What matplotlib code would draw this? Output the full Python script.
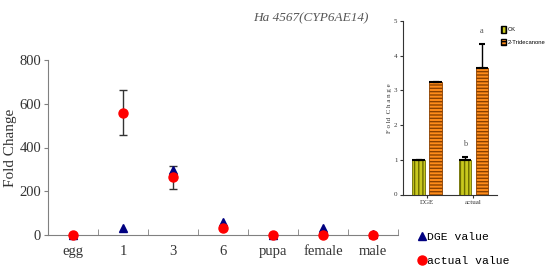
import matplotlib
matplotlib.use("Agg")
import matplotlib.pyplot as plt
import numpy as np
from matplotlib.lines import Line2D
from matplotlib.patches import Patch

# ---- data ----
stages = ["egg", "1", "3", "6", "pupa", "female", "male"]
dge_values = [0, 30, 297, 60, 0, 30, 5]
actual_values = [0, 560, 263, 33, 0, 0, 0]
actual_err = [0, 105, 52, 0, 0, 0, 0]

inset_groups = ["DGE", "actual"]
ck_values = [1.0, 1.0]
ck_err = [0.0, 0.09]
tri_values = [3.23, 3.65]
tri_err = [0.0, 0.69]
ck_letters = ["", "b"]
tri_letters = ["", "a"]

plt.rcParams['font.family'] = ['Liberation Serif', 'DejaVu Serif']

fig = plt.figure(figsize=(5.48, 2.73), dpi=100)
ax = fig.add_axes([48/548, 1-235/273, 350/548, 175/273])

x = np.arange(len(stages))
ax.errorbar(x, actual_values, yerr=actual_err, fmt='none', ecolor='#333333',
            elinewidth=1, capsize=3, capthick=1, zorder=2, clip_on=False)
ax.plot(x, dge_values, linestyle='none', marker='^', markersize=6,
        color='#000080', zorder=3, clip_on=False)
ax.plot(x, actual_values, linestyle='none', marker='o', markersize=6.5,
        color='#ff0000', zorder=4, clip_on=False)

ax.set_xlim(-0.5, len(stages) - 0.5)
ax.set_ylim(0, 800)
ax.set_yticks([0, 200, 400, 600, 800])
ax.set_xticks(x)
ax.set_xticklabels(stages)
ax.set_xticks(np.arange(-0.5, len(stages)), minor=True)
ax.tick_params(axis='x', which='major', length=0, pad=7, labelsize=10.5, colors='#333333')
ax.tick_params(axis='x', which='minor', length=4, direction='in', color='#808080')
ax.tick_params(axis='y', length=3, direction='out', color='#808080',
               labelsize=10.5, labelcolor='#333333', pad=2)
for s in ['top', 'right']:
    ax.spines[s].set_visible(False)
for s in ['left', 'bottom']:
    ax.spines[s].set_color('#808080')
ax.set_ylabel("Fold Change", fontsize=11, color='#333333')
ax.yaxis.set_label_coords(-0.088, 0.5)

fig.text(253/548, 1-18/273, "Ha 4567(CYP6AE14)", fontsize=9.5, style='italic',
         color='#555555', va='center', ha='left')

handles = [Line2D([], [], linestyle='none', marker='^', color='#000080', markersize=6),
           Line2D([], [], linestyle='none', marker='o', color='#ff0000', markersize=6.5)]
fig.legend(handles, ["DGE value", "actual value"], loc='center left',
           bbox_to_anchor=(419/548, 1-249/273), frameon=False, handlelength=0.6,
           handletextpad=0.1, labelspacing=1.2,
           prop={'family': ['Liberation Mono', 'DejaVu Sans Mono'], 'size': 8.2},
           borderaxespad=0, borderpad=0)

# ---- inset ----
ax2 = fig.add_axes([403/548, 1-194.5/273, 94/548, 173.5/273])
gx = np.arange(len(inset_groups))
w = 0.27
ebk = dict(ecolor='black', capsize=2.5, elinewidth=1, capthick=1.5)
ax2.bar(gx - 0.18, ck_values, w, color='#c8c81e', edgecolor='#6b6b00',
        hatch='||||', linewidth=0.6,
        yerr=[np.zeros(len(ck_err)), ck_err], error_kw=ebk)
ax2.bar(gx + 0.19, tri_values, w, color='#ff8c1a', edgecolor='#8a4000',
        hatch='-----', linewidth=0.6,
        yerr=[np.zeros(len(tri_err)), tri_err], error_kw=ebk)
ax2.hlines(ck_values, gx - 0.18 - w/2, gx - 0.18 + w/2, color='black', linewidth=1.5)
ax2.hlines(tri_values, gx + 0.19 - w/2, gx + 0.19 + w/2, color='black', linewidth=1.5)
for i in range(len(inset_groups)):
    if ck_letters[i]:
        ax2.text(gx[i] - 0.18, ck_values[i] + ck_err[i] + 0.25, ck_letters[i],
                 ha='center', va='bottom', fontsize=6, color='#555555')
    if tri_letters[i]:
        ax2.text(gx[i] + 0.19, tri_values[i] + tri_err[i] + 0.25, tri_letters[i],
                 ha='center', va='bottom', fontsize=6, color='#555555')
ax2.set_xlim(-0.52, 1.52)
ax2.set_ylim(0, 5)
ax2.set_yticks([0, 1, 2, 3, 4, 5])
ax2.set_xticks(gx)
ax2.set_xticklabels(inset_groups)
ax2.tick_params(axis='both', labelsize=5, length=2, width=0.8, pad=2, colors='#333333')
for s in ['top', 'right']:
    ax2.spines[s].set_visible(False)
for s in ['left', 'bottom']:
    ax2.spines[s].set_color('#333333')
ax2.set_ylabel("F o ld  C h a n g e", fontsize=5, color='#333333', labelpad=1)

leg_handles = [Patch(facecolor='#c8c81e', edgecolor='black', hatch='||||', linewidth=1),
               Patch(facecolor='#ff8c1a', edgecolor='black', hatch='-----', linewidth=1)]
fig.legend(leg_handles, ["CK", "2-Tridecanone"], loc='upper left',
           bbox_to_anchor=(501/548, 1-26/273), frameon=False,
           handlelength=0.9, handleheight=1.4, handletextpad=0.3, labelspacing=1.0,
           borderaxespad=0, borderpad=0,
           prop={'family': ['Liberation Sans', 'DejaVu Sans'], 'size': 4.2})

fig.savefig("out.png", dpi=100)
